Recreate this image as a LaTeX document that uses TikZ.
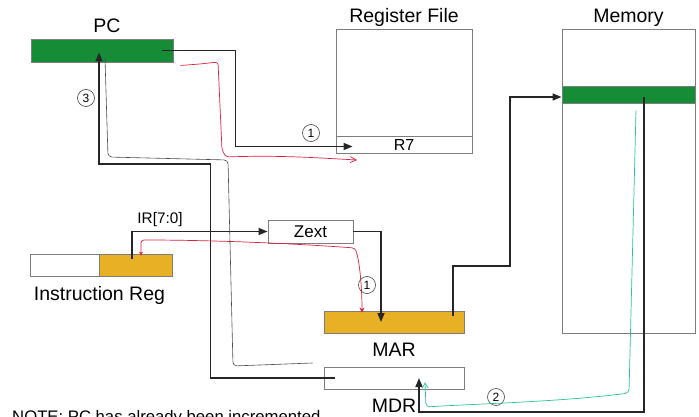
\documentclass[tikz,border=0pt]{standalone}
\usepackage{fontspec}
\setmainfont{Liberation Sans}
\usepackage{xcolor}
\usetikzlibrary{arrows.meta, positioning, calc}

\definecolor{pcgreen}{RGB}{22,140,55}
\definecolor{irorange}{RGB}{232,176,36}
\definecolor{penred}{RGB}{215,35,60}
\definecolor{pengreen}{RGB}{40,200,140}
\definecolor{boxgray}{RGB}{125,125,125}

\begin{document}
\begin{tikzpicture}[
  x=1pt, y=-1pt,
  font=\fontsize{19.5}{22}\selectfont,
  >={Triangle[length=9pt,width=7pt]},
  regbox/.style={rectangle, draw=boxgray, line width=0.9pt, inner sep=0pt},
  ann/.style={inner sep=0pt},
  circnum/.style={circle, draw=black!75, line width=0.6pt, inner sep=0pt,
        minimum size=17pt, font=\fontsize{12}{14}\selectfont},
  flow/.style={->, black!85, line width=1.5pt},
  redpen/.style={penred, line width=0.7pt, rounded corners=3pt},
  graypen/.style={black!70, line width=0.6pt, rounded corners=4pt},
  greenpen/.style={pengreen, line width=0.7pt, rounded corners=4pt},
]
\useasboundingbox (0,0) rectangle (699,417);

% --- Registers and memory ---
\node[regbox, fill=pcgreen, minimum width=142pt, minimum height=23pt] (pc) at (102,50.5) {};
\node[regbox, minimum width=136pt, minimum height=124pt] (regfile) at (404,91) {};
\node[regbox, minimum width=136pt, minimum height=17pt, font=\fontsize{16}{18}\selectfont]
  (r7) at (404,144.5) {R7};
\node[regbox, minimum width=133pt, minimum height=304pt] (mem) at (628.5,181) {};
\node[regbox, fill=pcgreen, minimum width=133pt, minimum height=17pt] (memrow) at (628.5,94.5) {};
\node[regbox, minimum width=85pt, minimum height=23pt, font=\fontsize{17}{19}\selectfont]
  (zext) at (310.5,231.5) {Zext};
\node[regbox, minimum width=69pt, minimum height=22pt] (irhi) at (64.5,265) {};
\node[regbox, fill=irorange, minimum width=73pt, minimum height=22pt] (irlo) at (135.5,265) {};
\node[regbox, fill=irorange, minimum width=140pt, minimum height=22pt] (mar) at (394,322) {};
\node[regbox, minimum width=140pt, minimum height=22pt] (mdr) at (394,378) {};

% --- Labels ---
\node[ann, above=6pt of pc, xshift=5pt] (pclbl) {PC};
\node[ann, above=2pt of regfile] (rflbl) {Register File};
\node[ann, above=2pt of mem] (memlbl) {Memory};
\node[ann, below=10pt of irhi.south east] (irlbl) {Instruction Reg};
\node[ann, below=9pt of mar] (marlbl) {MAR};
\node[ann, below=9pt of mdr] (mdrlbl) {MDR};
\node[ann, font=\fontsize{15.3}{17}\selectfont] (irbits) at (160,220) {IR[7:0]};
\node[ann, anchor=north west, font=\fontsize{16.7}{19}\selectfont]
  (note) at (12,410) {NOTE: PC has already been incremented};

% --- Step numbers ---
\node[circnum] (stepa) at (311,133) {1};
\node[circnum] (stepb) at (367,285) {1};
\node[circnum] (stepc) at (496,397) {2};
\node[circnum] (stepd) at (86,98) {3};

% --- Datapath connectors ---
\draw[flow] ($(pc.east)+(-11,0)$) -- ++(73,0) |- ($(r7.west)+(17,2)$);
\draw[flow] ($(irlo.center)+(-3.5,-6)$) |- (zext.west);
\draw[flow] (zext.east) -| ($(mar.center)+(-13,0)$);
\draw[flow] ($(mar.center)+(59,-6)$) -- ++(0,-50) -- ++(57,0) |- ($(memrow.west)+(0,2.5)$);
\draw[flow] ($(memrow.center)+(15.5,2.5)$) -- ++(0,315) -| ($(mdr.center)+(25,0)$);
\draw[flow] ($(mdr.west)+(11,0)$) -- ++(-124,0) -- ++(0,-214) -| ($(pc.south)+(-3,-10)$);

% --- Pen annotations ---
\draw[redpen, -{Straight Barb[length=6pt,width=6pt]}] ($(pc.south east)+(7,3)$)
   -- (200,64) -- (218,62) -- (222,150) -- (226,157)
   .. controls (280,155) and (320,158) .. (357,160);
\draw[redpen, {Stealth[length=4pt,width=4pt]}-{Stealth[length=5pt,width=5pt]}]
   ($(irlo.north)+(5.5,2)$) -- (141,240)
   .. controls (220,240) and (300,244) .. (355,248)
   .. controls (360,262) and (362,290) .. ($(mar.north)+(-32,2)$);
\draw[graypen] ($(mdr.west)+(-11,-15)$) -- (233,366) -- (228,160) -- (108,157)
   -- ($(pc.south)+(3,-4)$);
\draw[greenpen, -{Straight Barb[length=5pt,width=6pt]}] ($(memrow.center)+(7.5,16)$)
   -- (629,393) .. controls (560,402) and (470,404) .. (426,407)
   -- ($(mdr.south)+(31,-7)$);

\end{tikzpicture}
\end{document}
